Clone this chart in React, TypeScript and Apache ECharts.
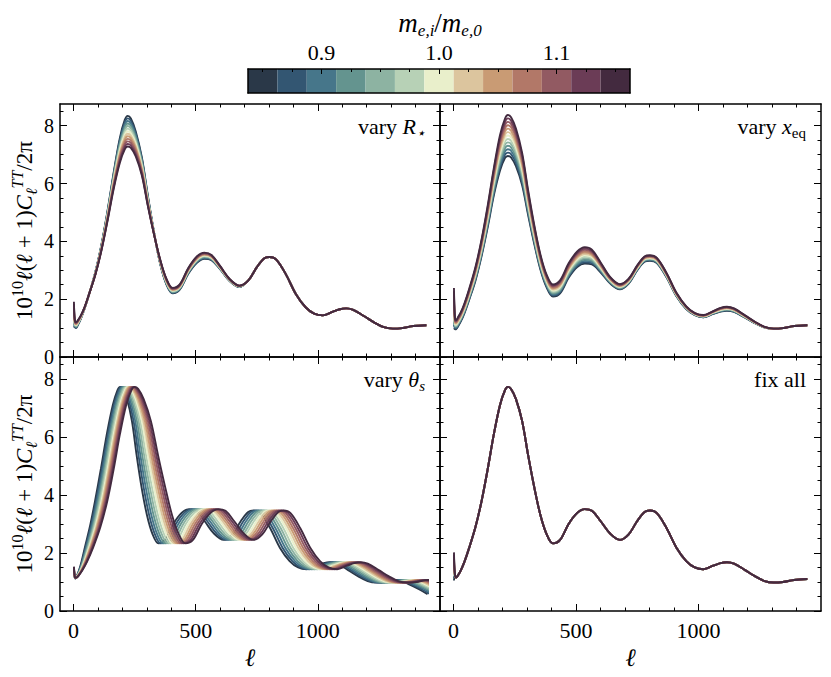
import React, { useEffect, useRef } from "react";
import * as echarts from "echarts";

// ---- colour bar: m_{e,i}/m_{e,0} ----
const M_RATIO = [0.85, 0.875, 0.9, 0.925, 0.95, 0.975, 1.0, 1.025, 1.05, 1.075, 1.1, 1.125, 1.15];
const LINE_COLORS = [
  "#2a3848", "#335672", "#46768a", "#64948f", "#8db3a2", "#b7d1b6", "#e9efcb",
  "#dcc59e", "#c99b74", "#b27868", "#925a62", "#6b3c56", "#432a3f",
];
const CBAR_MAJOR = [0.9, 1.0, 1.1];

// ---- multipole knots and the fixed ("fix all") spectrum ----
const ELL = [
  2, 4, 7, 11, 18, 30, 45, 65, 90, 115, 140, 165, 190, 210, 222, 235, 255, 280, 305, 330,
  355, 380, 406, 435, 470, 505, 536, 565, 600, 640, 679, 715, 750, 780, 802, 830, 870, 910,
  950, 985, 1020, 1060, 1090, 1116, 1145, 1190, 1230, 1270, 1307, 1345, 1390, 1444,
];
const CL_BASE = [
  2.02, 1.5, 1.2, 1.15, 1.22, 1.4, 1.7, 2.2, 2.9, 3.8,
  4.9, 6.1, 7.1, 7.6, 7.72, 7.65, 7.3, 6.55, 5.35, 4.25,
  3.3, 2.65, 2.33, 2.45, 3.0, 3.38, 3.51, 3.45, 3.1, 2.66,
  2.45, 2.64, 3.1, 3.41, 3.46, 3.37, 2.85, 2.18, 1.72, 1.5,
  1.44, 1.56, 1.65, 1.68, 1.63, 1.41, 1.2, 1.03, 0.98, 1.0,
  1.07, 1.1,
];

// deviations of the lowest (m=0.85) and highest (m=1.15) curve from CL_BASE
const FIX_DLO = [-0.97, -0.35, -0.05];
const FIX_DHI = [0, 0, 0];

const R_DLO = [
  -1.0, -0.45, -0.18, -0.15, -0.12, -0.08, -0.04, 0, 0.05, 0.1,
  0.18, 0.3, 0.48, 0.6, 0.62, 0.6, 0.5, 0.35, 0.2, 0.05,
  -0.08, -0.13, -0.13, -0.12, -0.12, -0.12, -0.11, -0.1, -0.06, -0.04,
  -0.03,
];
const R_DHI = [
  -0.11, -0.05, 0.03, 0.06, 0.05, 0.03, 0.01, 0, -0.05, -0.1,
  -0.17, -0.27, -0.38, -0.42, -0.44, -0.42, -0.36, -0.27, -0.15, -0.02,
  0.07, 0.07, 0.06, 0.06, 0.08, 0.1, 0.1, 0.08, 0.05, 0.03,
  0.02,
];

const X_DLO = [
  -1.02, -0.52, -0.24, -0.18, -0.17, -0.17, -0.18, -0.2, -0.25, -0.3,
  -0.4, -0.5, -0.65, -0.72, -0.77, -0.75, -0.7, -0.6, -0.45, -0.35,
  -0.28, -0.24, -0.24, -0.25, -0.26, -0.27, -0.28, -0.25, -0.17, -0.12,
  -0.11, -0.1, -0.1, -0.11, -0.13, -0.12, -0.1, -0.08, -0.06, -0.05,
  -0.07, -0.07, -0.08, -0.08, -0.07, -0.05, -0.03, -0.01,
];
const X_DHI = [
  0.37, 0.2, 0.1, 0.13, 0.15, 0.15, 0.16, 0.18, 0.22, 0.28,
  0.35, 0.45, 0.58, 0.64, 0.65, 0.64, 0.6, 0.52, 0.4, 0.3,
  0.24, 0.2, 0.18, 0.2, 0.24, 0.27, 0.29, 0.26, 0.18, 0.1,
  0.07, 0.07, 0.07, 0.07, 0.06, 0.06, 0.05, 0.04, 0.03, 0.02,
  0.01, 0.03, 0.05, 0.06, 0.05, 0.03, 0.02, 0.01,
];

// "vary theta_s": same heights, curves shifted in multipole
const TH_DLO = [-0.72, -0.3, -0.08];
const TH_DHI = [-0.49, -0.2, -0.05];
const TH_TAIL_ELL = [1444, 1480, 1515];
const TH_TAIL_CL = [0.9, 0.75, 0.58];
const TH_SHIFT = [-60, -50, -40, -30, -20, -10, 0, 9, 18, 27, 36, 45, 54];
const TH_GAIN = [
  0, 0, 0, 0.02, 0.06, 0.12, 0.2, 0.3, 0.38, 0.44,
  0.46, 0.47, 0.48, 0.5, 0.52, 0.55, 0.6, 0.68, 0.77, 0.85,
  0.9, 0.94, 0.97, 1.0, 1.02, 1.04, 1.05, 1.06, 1.06, 1.07,
  1.07, 1.07, 1.08, 1.08, 1.08, 1.08, 1.08, 1.09, 1.09, 1.09,
  1.09, 1.1, 1.1, 1.1, 1.1, 1.1, 1.1, 1.1, 1.1, 1.1,
  1.1, 1.1, 1.1, 1.1,
];

// ---- axis ticks ----
const X_MAJOR = [0, 500, 1000];
const X_MINOR = [100, 200, 300, 400, 600, 700, 800, 900, 1100, 1200, 1300, 1400];
const Y_MAJOR = [0, 2, 4, 6, 8];
const Y_MINOR = [0.5, 1, 1.5, 2.5, 3, 3.5, 4.5, 5, 5.5, 6.5, 7, 7.5, 8.5];

const XMIN = -55;
const XMAX = 1500;
const XEND = 1444;
const YMAX = 8.75;

const FONT = "Liberation Serif";

function buildLines(knots: number[], base: number[], dlo: number[], dhi: number[], shift?: number[], gain?: number[]) {
  const m0 = M_RATIO[0];
  const m1 = M_RATIO[M_RATIO.length - 1];
  return M_RATIO.map((m, i) => {
    const t = (m - m0) / (m1 - m0);
    return knots.map((l, k) => {
      const lo = dlo[k] ?? 0;
      const hi = dhi[k] ?? 0;
      const x = shift && gain ? l + shift[i] * (gain[k] ?? 1.1) : l;
      return [x, base[k] + lo + (hi - lo) * t];
    });
  });
}

const thetaKnots = ELL.slice(0, ELL.length - 1).concat(TH_TAIL_ELL);
const thetaBase = CL_BASE.slice(0, CL_BASE.length - 1).concat(TH_TAIL_CL);

const PANEL_LINES = [
  buildLines(ELL, CL_BASE, R_DLO, R_DHI),
  buildLines(ELL, CL_BASE, X_DLO, X_DHI),
  buildLines(thetaKnots, thetaBase, TH_DLO, TH_DHI, TH_SHIFT, TH_GAIN),
  buildLines(ELL, CL_BASE, FIX_DLO, FIX_DHI),
];

const PANEL_BOX = [
  { left: 60, top: 104, width: 380, height: 253, showX: false, showY: true },
  { left: 440, top: 104, width: 381, height: 253, showX: false, showY: false },
  { left: 60, top: 357, width: 380, height: 254, showX: true, showY: true },
  { left: 440, top: 357, width: 381, height: 254, showX: true, showY: false },
];
const PANEL_TEXT = [
  "{n|vary }{i|R}{sub|⋆}",
  "{n|vary }{i|x}{subr|eq}",
  "{n|vary }{i|θ}{sub|s}",
  "{n|fix all}",
];

const BLACK = "#000";
const TEXT_RICH: any = {
  n: { fontFamily: FONT, fontSize: 22, lineHeight: 28, color: BLACK, fill: BLACK },
  i: { fontFamily: FONT, fontSize: 22, lineHeight: 28, fontStyle: "italic", color: BLACK, fill: BLACK },
  sub: { fontFamily: FONT, fontSize: 15, lineHeight: 14, fontStyle: "italic", verticalAlign: "bottom", color: BLACK, fill: BLACK },
  subr: { fontFamily: FONT, fontSize: 15, lineHeight: 14, verticalAlign: "bottom", color: BLACK, fill: BLACK },
};
const YNAME_RICH: any = {
  n: { fontFamily: FONT, fontSize: 23, lineHeight: 30, color: BLACK },
  i: { fontFamily: FONT, fontSize: 23, lineHeight: 30, fontStyle: "italic", color: BLACK },
  sup: { fontFamily: FONT, fontSize: 16, lineHeight: 15, verticalAlign: "top", color: BLACK },
  supi: { fontFamily: FONT, fontSize: 16, lineHeight: 15, fontStyle: "italic", verticalAlign: "top", color: BLACK },
  subi: { fontFamily: FONT, fontSize: 16, lineHeight: 15, fontStyle: "italic", verticalAlign: "bottom", color: BLACK },
};
const Y_NAME = "{n|10}{sup|10}{i|ℓ}{n|(}{i|ℓ}{n| + 1)}{i|C}{subi|ℓ}{supi|TT}{n|/2π}";

function buildOption() {
  const grid: any[] = [];
  const xAxis: any[] = [];
  const yAxis: any[] = [];
  const series: any[] = [];
  const graphic: any[] = [];
  const lineStyle = { color: BLACK, width: 1 };
  const frameLine = { show: true, onZero: false, lineStyle: { color: BLACK, width: 1.5 } };
  const tickFmt = (v: number) => String(Math.round(v));

  PANEL_BOX.forEach((b, p) => {
    const fg = grid.length;
    grid.push({ left: b.left, top: b.top, width: b.width, height: b.height });
    const dg = grid.length;
    grid.push({
      left: b.left,
      top: b.top,
      width: (b.width * (XEND - XMIN)) / (XMAX - XMIN),
      height: b.height,
    });
    const xv = { type: "value", min: XMIN, max: XMAX, gridIndex: fg, splitLine: { show: false } };
    const yv = { type: "value", min: 0, max: YMAX, gridIndex: fg, splitLine: { show: false } };
    xAxis.push({
      ...xv,
      position: "bottom",
      axisLine: frameLine,
      axisTick: { show: true, inside: true, length: 7, customValues: X_MAJOR, lineStyle },
      axisLabel: {
        show: b.showX, customValues: X_MAJOR, formatter: tickFmt,
        color: BLACK, fontFamily: FONT, fontSize: 22, margin: 8,
      },
      name: b.showX ? "ℓ" : "",
      nameLocation: "middle",
      nameGap: 34,
      nameTextStyle: { fontFamily: FONT, fontSize: 25, fontStyle: "italic", color: BLACK },
    });
    xAxis.push({
      ...xv, position: "bottom", axisLine: { show: false, onZero: false },
      axisTick: { show: true, inside: true, length: 3.5, customValues: X_MINOR, lineStyle },
      axisLabel: { show: false },
    });
    xAxis.push({
      ...xv, position: "top", axisLine: frameLine,
      axisTick: { show: true, inside: true, length: 7, customValues: X_MAJOR, lineStyle },
      axisLabel: { show: false },
    });
    xAxis.push({
      ...xv, position: "top", axisLine: { show: false, onZero: false },
      axisTick: { show: true, inside: true, length: 3.5, customValues: X_MINOR, lineStyle },
      axisLabel: { show: false },
    });
    const dx = xAxis.length;
    xAxis.push({ type: "value", gridIndex: dg, min: XMIN, max: XEND, show: false });

    yAxis.push({
      ...yv,
      position: "left",
      axisLine: frameLine,
      axisTick: { show: true, inside: true, length: 7, customValues: Y_MAJOR, lineStyle },
      axisLabel: {
        show: b.showY, customValues: Y_MAJOR, formatter: tickFmt,
        color: BLACK, fontFamily: FONT, fontSize: 20, lineHeight: 16, margin: 6,
      },
      name: b.showY ? Y_NAME : "",
      nameLocation: "middle",
      nameRotate: 90,
      nameGap: 21,
      nameTextStyle: { rich: YNAME_RICH, color: BLACK },
    });
    yAxis.push({
      ...yv, position: "left", axisLine: { show: false, onZero: false },
      axisTick: { show: true, inside: true, length: 3.5, customValues: Y_MINOR, lineStyle },
      axisLabel: { show: false },
    });
    yAxis.push({
      ...yv, position: "right", axisLine: frameLine,
      axisTick: { show: true, inside: true, length: 7, customValues: Y_MAJOR, lineStyle },
      axisLabel: { show: false },
    });
    yAxis.push({
      ...yv, position: "right", axisLine: { show: false, onZero: false },
      axisTick: { show: true, inside: true, length: 3.5, customValues: Y_MINOR, lineStyle },
      axisLabel: { show: false },
    });
    const dy = yAxis.length;
    yAxis.push({ type: "value", gridIndex: dg, min: 0, max: YMAX, show: false });

    PANEL_LINES[p].forEach((pts, i) => {
      series.push({
        type: "line",
        xAxisIndex: dx,
        yAxisIndex: dy,
        data: pts,
        smooth: 0.35,
        symbol: "none",
        showSymbol: false,
        clip: true,
        silent: true,
        lineStyle: { color: LINE_COLORS[i], width: 1.9 },
        z: 3,
      });
    });

    graphic.push({
      type: "text",
      x: b.left + b.width - 15,
      y: b.top + 22,
      z: 50,
      style: { text: PANEL_TEXT[p], rich: TEXT_RICH, align: "right", verticalAlign: "middle", fill: BLACK },
    });
  });

  // ---- colour bar ----
  const cg = grid.length;
  grid.push({ left: 248, top: 69, width: 382, height: 24 });
  const cats = M_RATIO.map((m) => m.toFixed(3));
  const isMajor = (idx: number) => CBAR_MAJOR.some((v) => Math.abs(v - M_RATIO[idx]) < 1e-6);
  const cx = xAxis.length;
  xAxis.push({
    type: "category", gridIndex: cg, data: cats, position: "top", z: 10,
    axisLine: { show: true, onZero: false, lineStyle: { color: BLACK, width: 1.5 } },
    axisTick: { show: true, inside: true, length: 5, alignWithLabel: true, interval: (idx: number) => isMajor(idx), lineStyle },
    axisLabel: {
      interval: (idx: number) => isMajor(idx),
      formatter: (v: string) => Number(v).toFixed(1),
      color: BLACK, fontFamily: FONT, fontSize: 22, margin: 6,
    },
  });
  xAxis.push({
    type: "category", gridIndex: cg, data: cats, position: "top", z: 10,
    axisLine: { show: false, onZero: false },
    axisTick: { show: true, inside: true, length: 3, alignWithLabel: true, interval: 0, lineStyle },
    axisLabel: { show: false },
  });
  xAxis.push({
    type: "category", gridIndex: cg, data: cats, position: "bottom", z: 10,
    axisLine: { show: true, onZero: false, lineStyle: { color: BLACK, width: 1.5 } },
    axisTick: { show: false }, axisLabel: { show: false },
  });
  const cy = yAxis.length;
  yAxis.push({
    type: "value", gridIndex: cg, min: 0, max: 1, position: "left", z: 10,
    axisLine: { show: true, onZero: false, lineStyle: { color: BLACK, width: 1.5 } },
    axisTick: { show: false }, axisLabel: { show: false }, splitLine: { show: false },
  });
  yAxis.push({
    type: "value", gridIndex: cg, min: 0, max: 1, position: "right", z: 10,
    axisLine: { show: true, onZero: false, lineStyle: { color: BLACK, width: 1.5 } },
    axisTick: { show: false }, axisLabel: { show: false }, splitLine: { show: false },
  });
  series.push({
    type: "bar",
    xAxisIndex: cx,
    yAxisIndex: cy,
    barCategoryGap: "0%",
    silent: true,
    data: M_RATIO.map((_, i) => ({ value: 1, itemStyle: { color: LINE_COLORS[i] } })),
    z: 2,
  });

  graphic.push({
    type: "text",
    x: 440,
    y: 23,
    z: 50,
    style: {
      text: "{i|m}{sub|e,i}{n|/}{i|m}{sub|e,0}",
      rich: {
        n: { fontFamily: FONT, fontSize: 27, lineHeight: 32, fill: BLACK },
        i: { fontFamily: FONT, fontSize: 27, lineHeight: 32, fontStyle: "italic", fill: BLACK },
        sub: { fontFamily: FONT, fontSize: 17, lineHeight: 16, fontStyle: "italic", verticalAlign: "bottom", fill: BLACK },
      },
      align: "center",
      verticalAlign: "middle",
      fill: BLACK,
    },
  });

  return {
    animation: false,
    backgroundColor: "#ffffff",
    textStyle: { fontFamily: FONT },
    grid,
    xAxis,
    yAxis,
    series,
    graphic,
  };
}

export default function App() {
  const ref = useRef<HTMLDivElement>(null);
  useEffect(() => {
    if (!ref.current) return;
    const chart = echarts.init(ref.current, null, { renderer: "svg" });
    chart.setOption(buildOption() as any);
    return () => chart.dispose();
  }, []);
  return (
    <div
      ref={ref}
      style={{ position: "fixed", left: 0, top: 0, width: 831, height: 677, background: "#fff" }}
    />
  );
}
